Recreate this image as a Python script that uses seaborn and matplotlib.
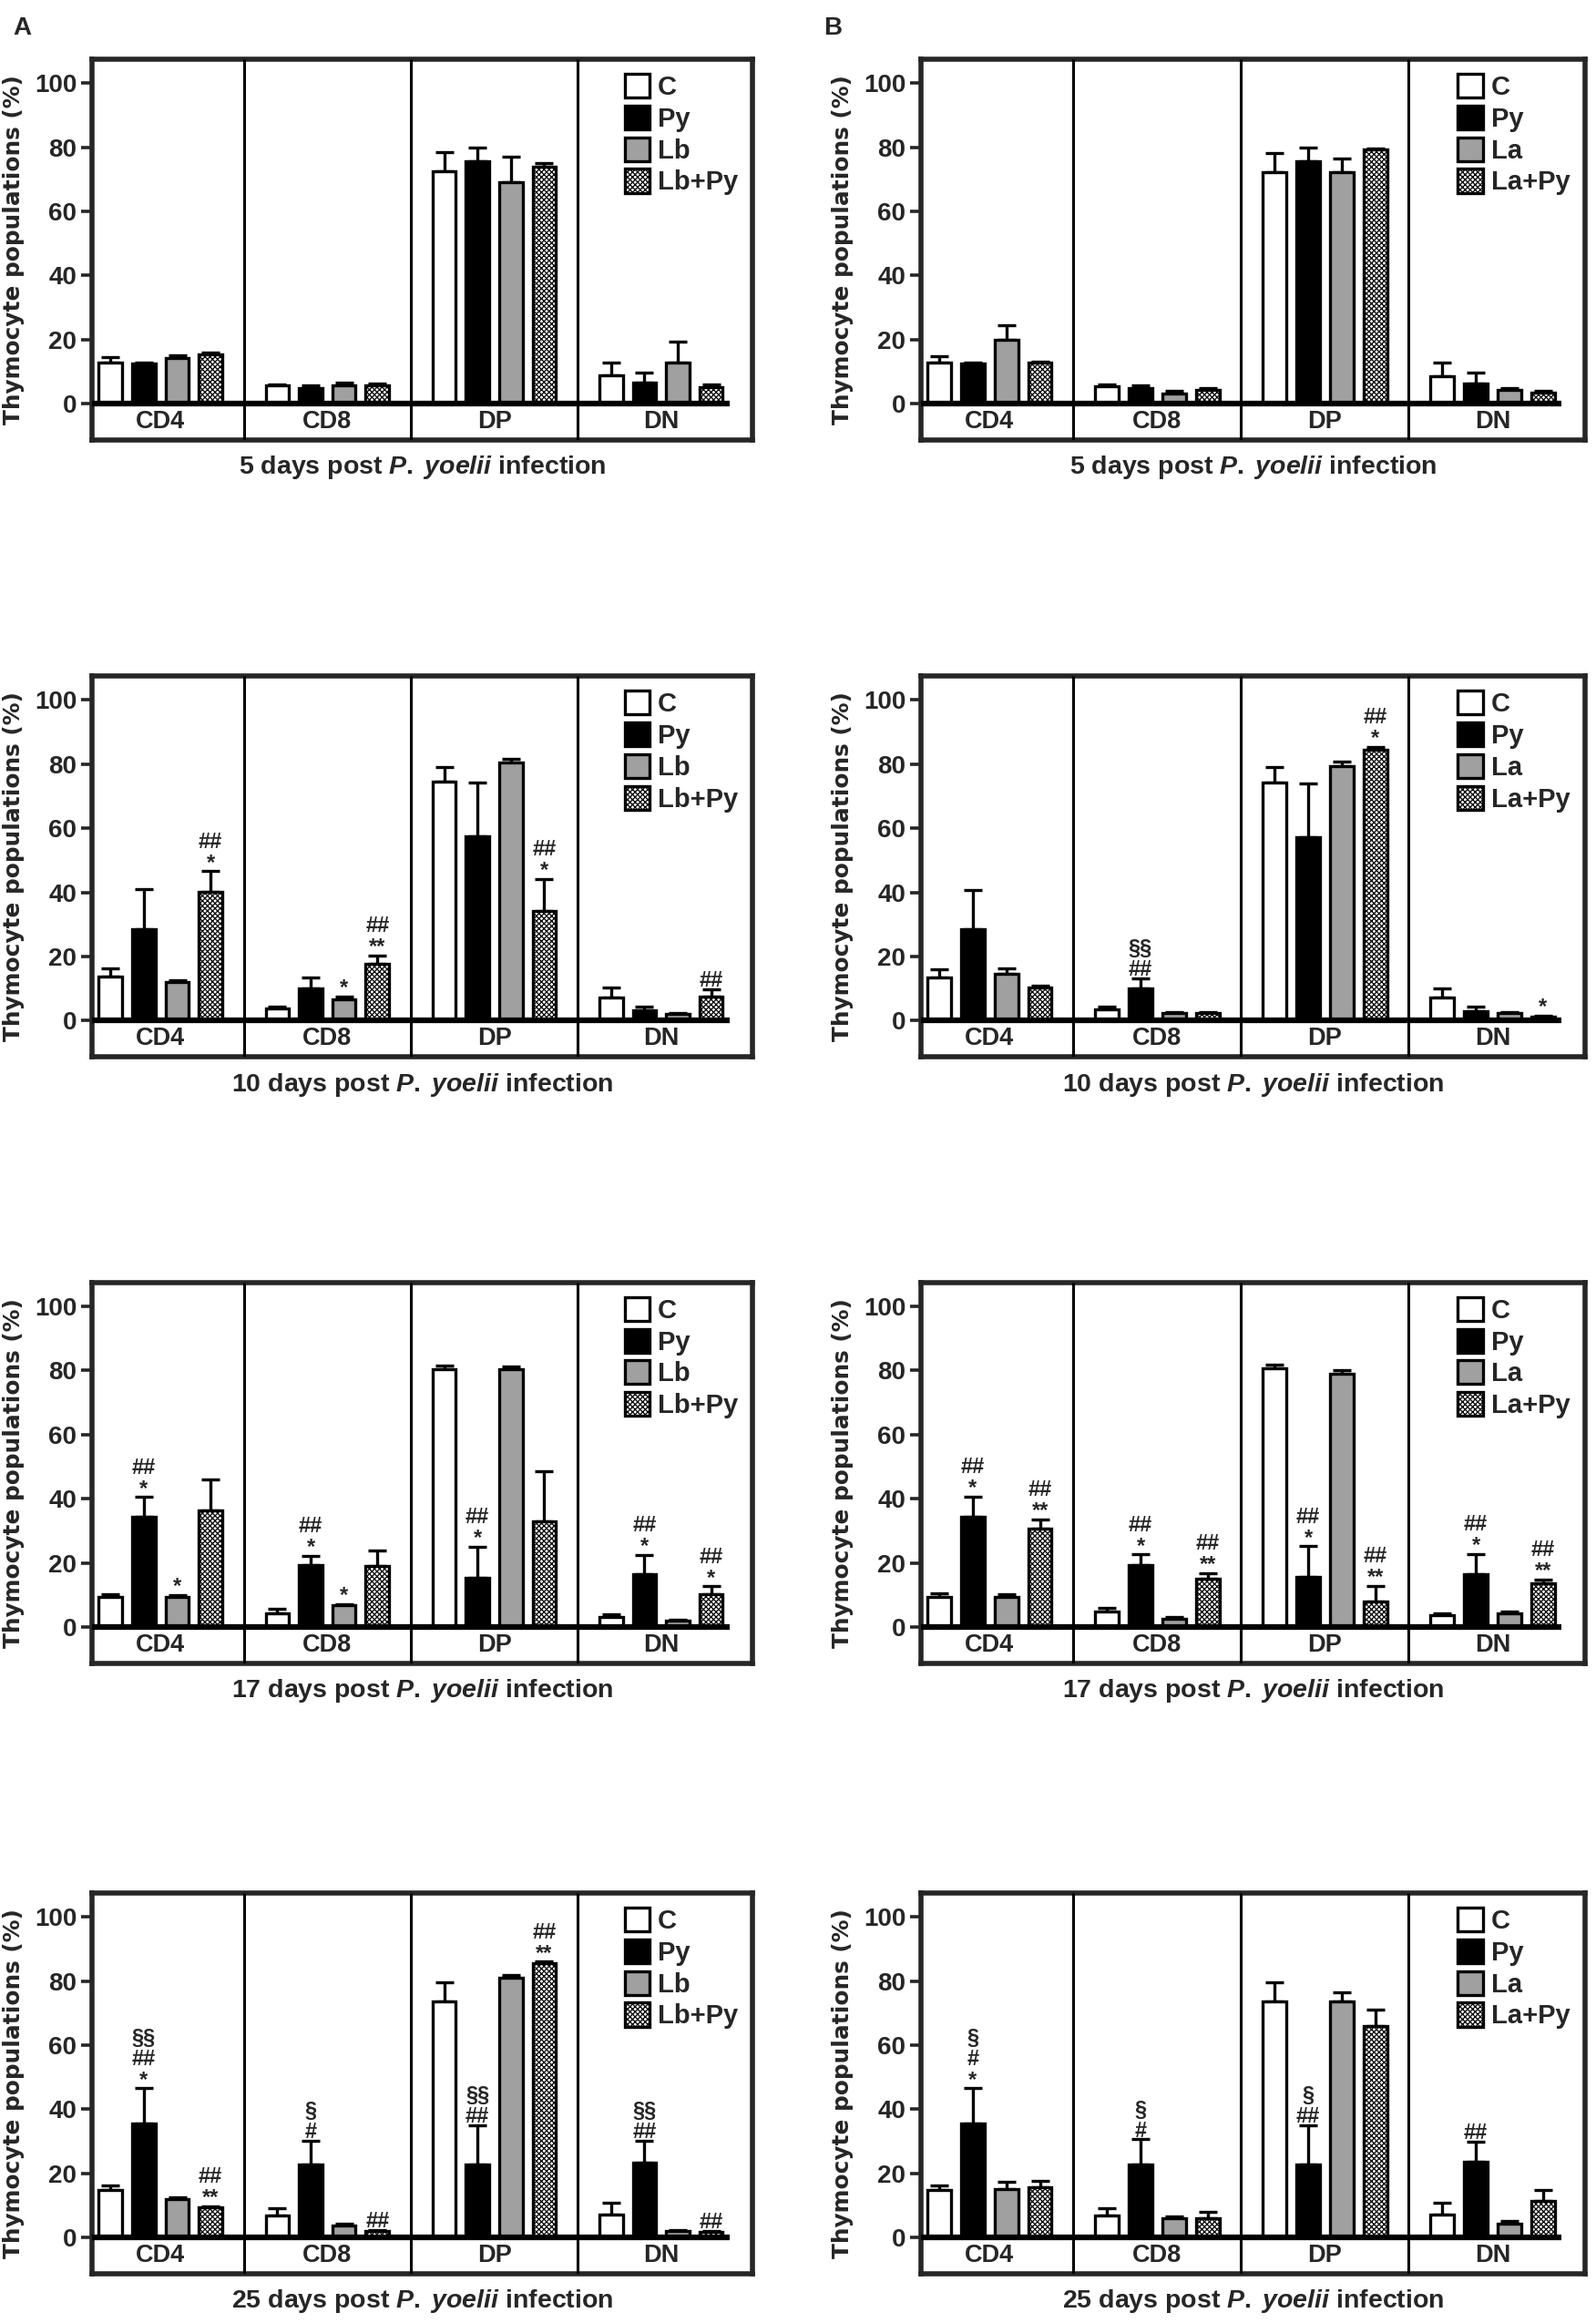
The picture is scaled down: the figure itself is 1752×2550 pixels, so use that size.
import numpy as np
import pandas as pd
import matplotlib
matplotlib.use("Agg")
import matplotlib.pyplot as plt
import seaborn as sns

sns.set_style("ticks")
plt.rcParams['font.family'] = ['Liberation Sans', 'DejaVu Sans']
plt.rcParams['font.weight'] = 'bold'
plt.rcParams['mathtext.fontset'] = 'custom'
plt.rcParams['mathtext.rm'] = 'Liberation Sans:bold'
plt.rcParams['mathtext.it'] = 'Liberation Sans:italic'
plt.rcParams['hatch.linewidth'] = 0.9

cells = ["CD4", "CD8", "DP", "DN"]
groups_lb = ["C", "Py", "Lb", "Lb+Py"]
groups_la = ["C", "Py", "La", "La+Py"]
days = [5, 10, 17, 25]

# rows = cells (CD4, CD8, DP, DN), columns = groups
lb5_mean = [[12.8, 12.6, 14.4, 15.3], [5.7, 5.0, 5.8, 5.7], [72.4, 75.6, 69.0, 73.8], [8.9, 6.5, 12.9, 5.2]]
lb5_err = [[1.8, 0.3, 0.7, 0.8], [0.3, 0.8, 0.7, 0.7], [6.0, 4.3, 7.9, 1.3], [3.9, 3.1, 6.6, 0.8]]
lb5_sig = [["", "", "", ""], ["", "", "", ""], ["", "", "", ""], ["", "", "", ""]]

la5_mean = [[12.7, 12.5, 19.8, 12.8], [5.5, 4.8, 3.3, 4.2], [72.2, 75.7, 72.2, 79.2], [8.7, 6.4, 4.4, 3.4]]
la5_err = [[2.0, 0.4, 4.7, 0.4], [0.5, 0.9, 0.6, 0.7], [5.9, 4.2, 4.4, 0.4], [4.0, 3.3, 0.6, 0.5]]
la5_sig = [["", "", "", ""], ["", "", "", ""], ["", "", "", ""], ["", "", "", ""]]

lb10_mean = [[13.8, 28.6, 12.0, 40.1], [3.7, 10.2, 6.7, 17.8], [74.7, 57.6, 80.4, 34.3], [7.2, 3.4, 2.0, 7.4]]
lb10_err = [[2.4, 12.5, 0.5, 6.5], [0.8, 3.3, 0.8, 2.6], [4.5, 16.8, 1.3, 9.8], [3.1, 1.1, 0.3, 2.4]]
lb10_sig = [["", "", "", "##\n*"], ["", "", "*", "##\n**"], ["", "", "", "##\n*"], ["", "", "", "##"]]

la10_mean = [[13.5, 28.5, 14.5, 10.3], [3.6, 10.0, 2.3, 2.5], [74.4, 57.3, 79.3, 84.4], [7.1, 3.1, 2.3, 1.3]]
la10_err = [[2.6, 12.3, 1.8, 0.7], [0.8, 3.3, 0.5, 0.3], [4.8, 16.8, 1.6, 1.0], [3.1, 1.3, 0.5, 0.3]]
la10_sig = [["", "", "", ""], ["", "§§\n##", "", ""], ["", "", "", "##\n*"], ["", "", "", "*"]]

lb17_mean = [[9.3, 34.3, 9.4, 36.5], [4.4, 19.2, 6.7, 19.1], [80.3, 15.4, 80.3, 33.0], [3.2, 16.4, 2.1, 10.2]]
lb17_err = [[0.9, 6.2, 0.6, 9.6], [1.4, 3.0, 0.5, 4.7], [1.2, 9.6, 1.0, 15.7], [0.7, 6.1, 0.3, 2.5]]
lb17_sig = [["", "##\n*", "*", ""], ["", "##\n*", "*", ""], ["", "##\n*", "", ""], ["", "##\n*", "", "##\n*"]]

la17_mean = [[9.5, 34.4, 9.5, 30.6], [4.7, 19.3, 2.6, 15.1], [80.6, 15.6, 79.0, 8.1], [3.6, 16.6, 4.2, 13.7]]
la17_err = [[1.0, 6.3, 0.6, 2.9], [1.4, 3.3, 0.4, 1.7], [1.2, 9.6, 1.2, 4.8], [0.6, 6.1, 0.5, 1.0]]
la17_sig = [["", "##\n*", "", "##\n**"], ["", "##\n*", "", "##\n**"], ["", "##\n*", "", "##\n**"], ["", "##\n*", "", "##\n**"]]

lb25_mean = [[14.9, 35.5, 11.9, 9.5], [6.9, 22.9, 3.6, 2.1], [73.6, 22.9, 81.1, 85.6], [7.2, 23.4, 2.1, 1.8]]
lb25_err = [[1.4, 11.0, 0.6, 0.3], [2.2, 7.2, 0.6, 0.2], [5.9, 12.1, 0.7, 0.4], [3.5, 6.7, 0.2, 0.3]]
lb25_sig = [["", "§§\n##\n*", "", "##\n**"], ["", "§\n#", "", "##"], ["", "§§\n##", "", "##\n**"], ["", "§§\n##", "", "##"]]

la25_mean = [[14.7, 35.5, 15.0, 15.8], [6.9, 22.9, 6.1, 6.0], [73.6, 22.9, 73.6, 66.0], [7.2, 23.6, 4.4, 11.4]]
la25_err = [[1.6, 11.0, 2.5, 1.9], [2.2, 7.7, 0.4, 2.0], [5.9, 12.2, 3.0, 5.0], [3.5, 6.3, 0.7, 3.3]]
la25_sig = [["", "§\n#\n*", "", ""], ["", "§\n#", "", ""], ["", "§\n##", "", ""], ["", "##", "", ""]]

colors = ["white", "black", "#a0a0a0", "white"]
YLO, YHI = -11.3, 107.5
XLO, XHI = -0.41, 3.55


def draw_panel(ax, groups, mean, err, sig, day):
    rows = []
    for i, c in enumerate(cells):
        for j, g in enumerate(groups):
            rows.append({"cell": c, "group": g, "value": mean[i][j]})
    df = pd.DataFrame(rows)
    sns.barplot(data=df, x="cell", y="value", hue="group", order=cells, hue_order=groups,
                palette=colors, saturation=1, edgecolor="black", linewidth=2.4,
                width=0.8, gap=0.3, errorbar=None, legend=False, ax=ax, zorder=3)
    bars = list(ax.containers)
    for p in bars[3]:
        p.set_hatch("xxxxxx")
    # upper error bars + significance marks
    for j, cont in enumerate(bars):
        xs = np.array([p.get_x() + p.get_width() / 2 for p in cont])
        hs = np.array([p.get_height() for p in cont])
        e = np.array([err[i][j] for i in range(len(cells))])
        ax.errorbar(xs, hs, yerr=[np.zeros_like(e), e], fmt="none", ecolor="black",
                    elinewidth=2.4, capsize=7, capthick=2.4, zorder=2)
        for i in range(len(cells)):
            if sig[i][j]:
                ax.annotate(sig[i][j], (xs[i], hs[i] + e[i]), xytext=(0, 2),
                            textcoords="offset points", ha="center", va="baseline",
                            fontsize=17, fontweight="bold", linespacing=1.0)
    ax.legend(bars, groups, loc="upper right", bbox_to_anchor=(1.0, 1.0), frameon=False,
              fontsize=21, handlelength=0.95, handleheight=1.0, handletextpad=0.3,
              labelspacing=0.2, borderaxespad=0.35, borderpad=0.2)
    ax.set_xlim(XLO, XHI)
    ax.set_ylim(YLO, YHI)
    ax.hlines(0, XLO, 3.41, color="black", lw=4.5, zorder=5)
    ax.vlines([0.5, 1.5, 2.5], YLO, YHI, color="black", lw=2.2, zorder=5)
    for i, c in enumerate(cells):
        ax.text(i, YLO / 2, c, ha="center", va="center", fontsize=19.5, fontweight="bold")
    ax.set_xticks([])
    ax.set_yticks(range(0, 101, 20))
    ax.tick_params(axis="y", direction="out", length=9, width=2.6, labelsize=20, pad=3)
    for s in ax.spines.values():
        s.set_visible(True)
        s.set_linewidth(4)
    ax.set_ylabel("Thymocyte populations (%)", family="DejaVu Sans", fontweight="bold",
                  fontsize=17.8, labelpad=8)
    ax.set_xlabel(f"{day} days post " + r"$\mathit{P.\;yoelii}$" + " infection",
                  fontsize=20.5, fontweight="bold", labelpad=11)


fig = plt.figure(figsize=(17.52, 25.5), dpi=100)
bottoms = [0.8106, 0.5450, 0.2840, 0.0212]
panels_a = [(lb5_mean, lb5_err, lb5_sig), (lb10_mean, lb10_err, lb10_sig),
            (lb17_mean, lb17_err, lb17_sig), (lb25_mean, lb25_err, lb25_sig)]
panels_b = [(la5_mean, la5_err, la5_sig), (la10_mean, la10_err, la10_sig),
            (la17_mean, la17_err, la17_sig), (la25_mean, la25_err, la25_sig)]

for r in range(4):
    axa = fig.add_axes([0.0577, bottoms[r], 0.414, 0.164])
    draw_panel(axa, groups_lb, *panels_a[r], days[r])
    axb = fig.add_axes([0.577, bottoms[r], 0.416, 0.164])
    draw_panel(axb, groups_la, *panels_b[r], days[r])

fig.text(0.008, 0.993, "A", fontsize=20, fontweight="bold", va="top")
fig.text(0.516, 0.993, "B", fontsize=20, fontweight="bold", va="top")

fig.savefig("out.png", dpi=100, facecolor="white")
